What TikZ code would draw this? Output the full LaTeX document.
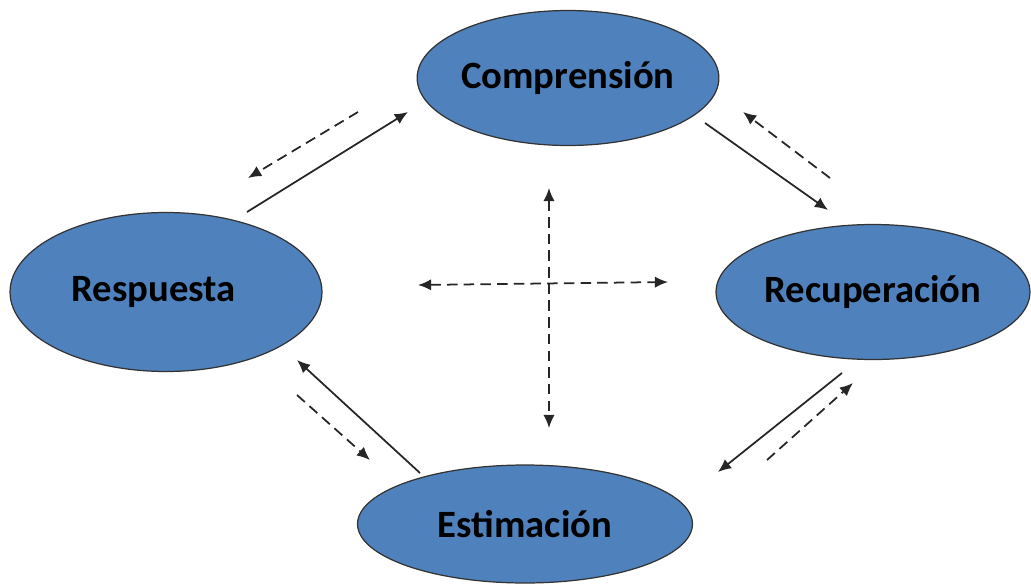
\documentclass[tikz,border=0pt]{standalone}
\usepackage{fontspec}
\setmainfont{Carlito}
\usetikzlibrary{shapes.geometric, arrows.meta}
\definecolor{etapa}{HTML}{4F81BD}

\begin{document}
\begin{tikzpicture}[x = 0.02cm, y = -0.02cm,
		fase/.style = {ellipse, draw = black!80, fill = etapa, line width = 0.7pt, inner sep = 0pt, font = \fontsize{22}{26}\selectfont\bfseries},
		ida/.style = {-{Latex[length = 7.5pt, width = 6.5pt]}, line width = 1pt, black!85},
		vuelta/.style = {ida, dash pattern = on 6pt off 3.5pt},
		cruz/.style = {{Latex[length = 7.5pt, width = 6.5pt]}-{Latex[length = 7.5pt, width = 6.5pt]}, line width = 1pt, black!85, dash pattern = on 6pt off 3.5pt}]
		\useasboundingbox (0,0) rectangle (1031,585);
		% las cuatro etapas
		\node[fase, minimum width = 6cm, minimum height = 2.7cm] (comp) at (568,78) {Comprensión};
		\node[fase, minimum width = 6.24cm, minimum height = 3.18cm] (resp) at (166,292) {Respuesta\hspace*{0.5cm}};
		\node[fase, minimum width = 6.28cm, minimum height = 2.7cm] (recu) at (873,292) {Recuperación};
		\node[fase, minimum width = 6.7cm, minimum height = 2.36cm] (esti) at (525,524) {Estimación};
		% extremos de las flechas
		\coordinate (rc1) at (247,212); \coordinate (rc2) at (408,112);
		\coordinate (cr1) at (358,112); \coordinate (cr2) at (248,178);
		\coordinate (cu1) at (705,123); \coordinate (cu2) at (828,210);
		\coordinate (uc1) at (830,178); \coordinate (uc2) at (743,112);
		\coordinate (er1) at (420,473); \coordinate (er2) at (297,360);
		\coordinate (re1) at (297,395); \coordinate (re2) at (370,460);
		\coordinate (ue1) at (842,373); \coordinate (ue2) at (718,472);
		\coordinate (eu1) at (767,460); \coordinate (eu2) at (853,383);
		\coordinate (arr) at (549,188); \coordinate (aba) at (549,428);
		\coordinate (izq) at (418,285); \coordinate (der) at (668,282);
		% ciclo
		\draw[ida] (rc1) -- (rc2);
		\draw[vuelta] (cr1) -- (cr2);
		\draw[ida] (cu1) -- (cu2);
		\draw[vuelta] (uc1) -- (uc2);
		\draw[ida] (ue1) -- (ue2);
		\draw[vuelta] (eu1) -- (eu2);
		\draw[ida] (er1) -- (er2);
		\draw[vuelta] (re1) -- (re2);
		% centro
		\draw[cruz] (arr) -- (aba);
		\draw[cruz] (izq) -- (der);
	\end{tikzpicture}
\end{document}
